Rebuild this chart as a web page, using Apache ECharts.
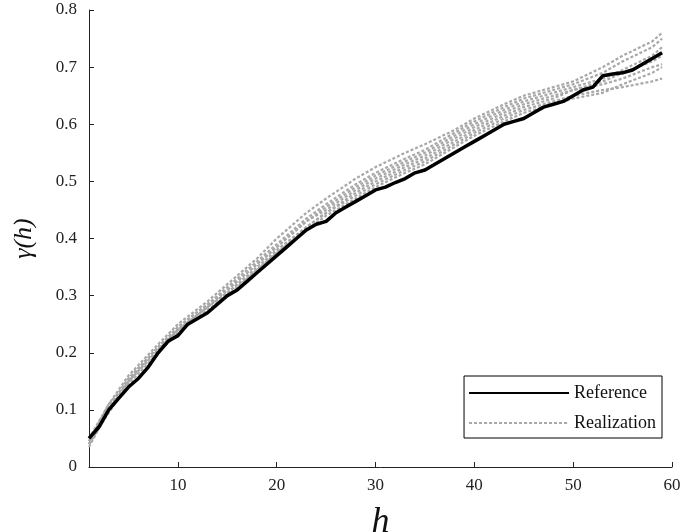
<!DOCTYPE html>
<html><head><meta charset="utf-8">
<script src="https://cdn.jsdelivr.net/npm/echarts@6/dist/echarts.min.js"></script>
<style>html,body{margin:0;background:#fff}#c{width:685px;height:532px}</style>
</head><body><div id="c"></div>
<script>
// reference variogram, h = 1..59
const refH = Array.from({ length: 59 }, (_, i) => i + 1);
const refVals = [0.05,0.07,0.10,0.12,0.14,0.155,0.175,0.20,0.22,0.23,
  0.25,0.26,0.27,0.285,0.30,0.31,0.325,0.34,0.355,0.37,
  0.385,0.40,0.415,0.425,0.43,0.445,0.455,0.465,0.475,0.485,
  0.49,0.498,0.505,0.515,0.52,0.53,0.54,0.55,0.56,0.57,
  0.58,0.59,0.60,0.605,0.61,0.62,0.63,0.635,0.64,0.65,
  0.66,0.665,0.685,0.688,0.69,0.695,0.705,0.715,0.725];

// realizations, sampled h
const realH = [1,3,5,8,10,13,15,18,20,23,25,28,30,33,35,38,40,43,45,48,50,53,55,58,59];
const real1 = [.045,.11,.16,.215,.25,.29,.32,.365,.40,.445,.47,.505,.525,.55,.565,.59,.61,.635,.65,.665,.675,.70,.72,.745,.76];
const real2 = [.04,.105,.155,.21,.245,.285,.315,.36,.39,.435,.46,.495,.515,.54,.555,.585,.605,.63,.645,.66,.67,.69,.71,.735,.75];
const real3 = [.05,.11,.15,.21,.24,.28,.31,.355,.385,.43,.455,.49,.51,.535,.55,.58,.60,.625,.64,.655,.665,.68,.695,.72,.735];
const real4 = [.035,.10,.15,.205,.24,.28,.305,.35,.38,.42,.445,.48,.50,.525,.54,.57,.59,.615,.63,.645,.66,.675,.69,.71,.72];
const real5 = [.04,.095,.145,.20,.235,.275,.30,.345,.375,.415,.44,.47,.49,.515,.53,.56,.58,.605,.62,.635,.645,.655,.67,.69,.70];
const real6 = [.045,.10,.15,.205,.24,.28,.305,.345,.375,.42,.445,.475,.495,.52,.535,.565,.585,.61,.625,.64,.65,.66,.665,.675,.68];
const real7 = [.04,.105,.155,.21,.245,.285,.31,.355,.385,.43,.45,.485,.505,.53,.545,.575,.595,.62,.635,.65,.66,.67,.68,.70,.705];
const reals = [real1, real2, real3, real4, real5, real6, real7];

const font = '"Liberation Serif", "DejaVu Serif", serif';
const chart = echarts.init(document.getElementById('c'));

const realSeries = reals.map(r => ({
  name: 'Realization',
  type: 'line',
  data: realH.map((h, i) => [h, r[i]]),
  symbol: 'none',
  lineStyle: { color: '#a8a8a8', width: 2.2, type: [3, 2] },
  z: 2
}));

chart.setOption({
  animation: false,
  grid: { left: 89, right: 13, top: 10, bottom: 65, outerBoundsMode: 'none' },
  legend: {
    data: ['Reference', 'Realization'],
    orient: 'vertical',
    right: 23, top: 376,
    itemWidth: 100, itemHeight: 4, itemGap: 12,
    itemStyle: { opacity: 0 },
    padding: [8, 6, 6, 4],
    borderColor: '#000', borderWidth: 1, backgroundColor: '#fff',
    textStyle: { fontFamily: font, fontSize: 18, color: '#111' }
  },
  xAxis: {
    type: 'value', min: 1, max: 60,
    name: 'h', nameLocation: 'middle', nameGap: 38,
    nameTextStyle: { fontFamily: font, fontStyle: 'italic', fontSize: 36, color: '#111' },
    axisLine: { lineStyle: { color: '#222' } },
    axisTick: { inside: true, length: 5, lineStyle: { color: '#222' } },
    axisLabel: {
      fontFamily: font, fontSize: 17, color: '#222', margin: 10,
      customValues: [10, 20, 30, 40, 50, 60]
    },
    splitLine: { show: false }
  },
  yAxis: {
    type: 'value', min: 0, max: 0.8, interval: 0.1,
    name: 'γ(h)', nameLocation: 'middle', nameGap: 52,
    nameTextStyle: { fontFamily: font, fontStyle: 'italic', fontSize: 26, color: '#111' },
    axisLine: { show: true, lineStyle: { color: '#222' } },
    axisTick: { show: true, inside: true, length: 5, lineStyle: { color: '#222' } },
    axisLabel: { fontFamily: font, fontSize: 17, color: '#222', margin: 12,
      formatter: v => v === 0 ? '0' : v.toFixed(1) },
    splitLine: { show: false }
  },
  series: realSeries.concat([{
    name: 'Reference',
    type: 'line',
    data: refH.map((h, i) => [h, refVals[i]]),
    symbol: 'none',
    lineStyle: { color: '#000', width: 3.5 },
    z: 5
  }])
});
</script></body></html>
